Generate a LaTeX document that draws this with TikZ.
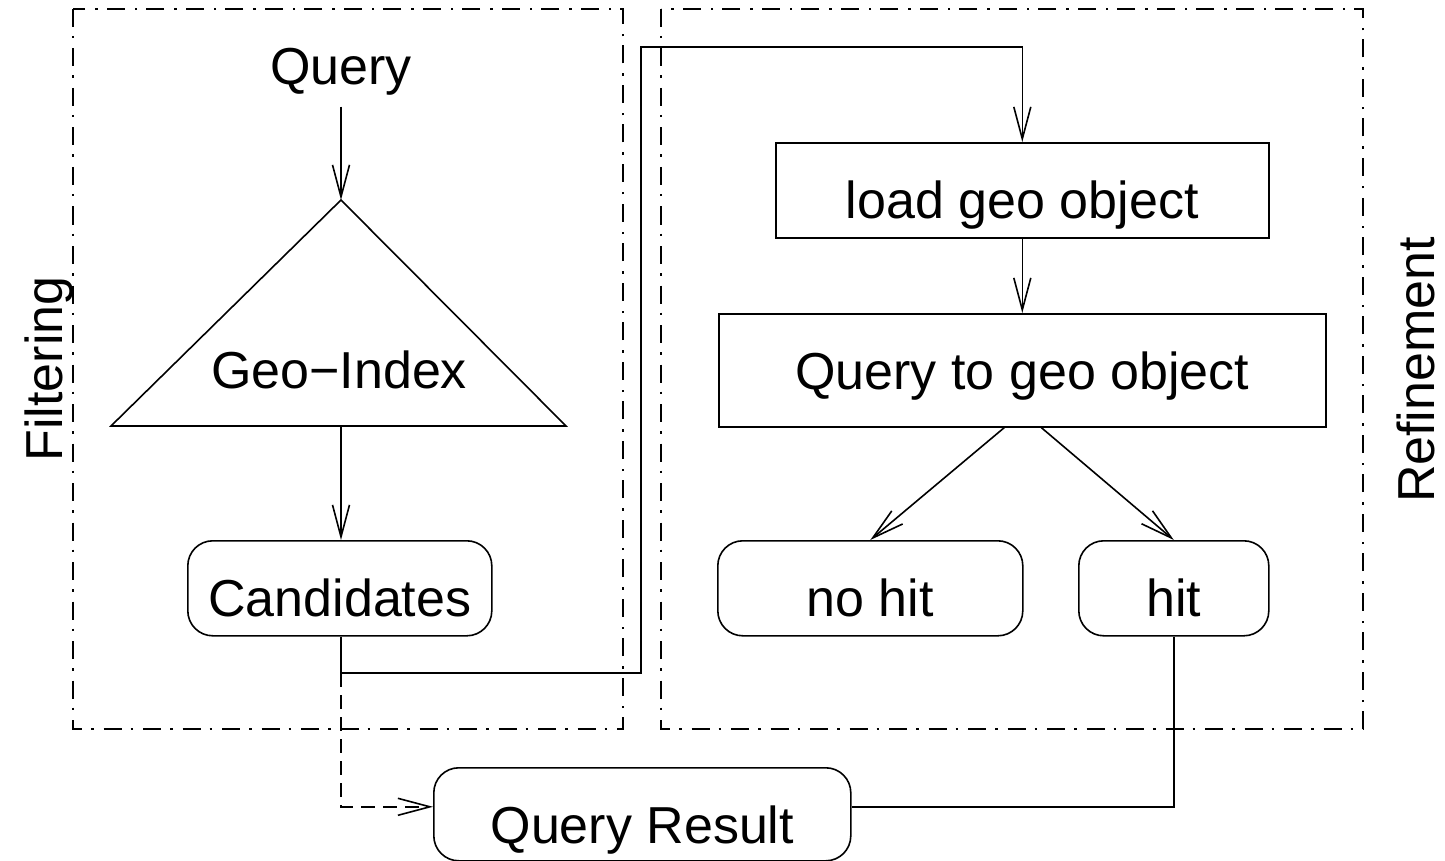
\documentclass[tikz,border=0pt]{standalone}
\usepackage{fontspec}
\setmainfont{Liberation Sans}
\usetikzlibrary{arrows.meta}

\tikzset{
  every picture/.style={x=1pt,y=-1pt,line width=1.6pt},
  arr/.style={-{Straight Barb[length=32pt,width=17pt,line width=1.6pt]}},
  frame/.style={dash pattern=on 18pt off 9pt on 2.5pt off 10pt},
  dashline/.style={dash pattern=on 14pt off 8pt},
  txt/.style={font=\fontsize{52}{60}\selectfont, inner sep=0pt},
  sqbox/.style={txt, draw, anchor=north west, text height=76pt},
  rbox/.style={sqbox, rounded corners=25pt},
}

\begin{document}
\begin{tikzpicture}
\useasboundingbox (0,0) rectangle (1445,861);

% group frames
\draw[frame] (73,9) rectangle (623,729);
\draw[frame] (661,9) rectangle (1363,729);
\node[txt, rotate=90, anchor=base] (filt) at (62,369) {Filtering};
\node[txt, rotate=90, anchor=base] (refi) at (1434,370) {Refinement};

% filtering step
\node[txt, anchor=base, inner ysep=10pt] (q) at (341,85) {Query};
\coordinate (apex) at (341,200);
\coordinate (tl) at (111,426);
\coordinate (tr) at (566,426);
\coordinate (tb) at (341,426);
\draw (apex) -- (tl) -- (tr) -- cycle;
\node[txt, anchor=base] (gi) at (339,388) {Geo−Index};
\node[rbox, minimum width=304pt, text depth=19pt] (cand) at (187,540) {Candidates};

\draw[arr] (q.south) -- (apex);
\draw[arr] (tb) -- (tb |- cand.north);

% refinement step
\node[sqbox, minimum width=493pt, text depth=19pt] (load) at (775,142) {load geo object};
\node[sqbox, minimum width=607pt, text depth=37pt] (qto) at (718,313) {Query to geo object};
\node[rbox, minimum width=305pt, text depth=19pt] (nohit) at (717,540) {no hit};
\node[rbox, minimum width=190pt, text depth=19pt] (hit) at (1078,540) {hit};

\draw[arr] (load.south) -- (qto.north);
\draw[arr] ([xshift=-18pt]qto.south) -- (nohit.north);
\draw[arr] ([xshift=19pt]qto.south) -- (hit.north);

% result
\node[rbox, minimum width=417pt, text depth=17pt] (qr) at (433,767) {Query Result};

% connectors between the stages
\coordinate (split) at (341,673);
\coordinate (up) at (641,47);
\draw[arr] (cand.south -| split) -- (split) -| (up) -| (load.north);
\draw[arr, dashline] (split) |- ([yshift=7.5pt]qr.west);
\draw (hit.south) |- ([yshift=7.5pt]qr.east);
\end{tikzpicture}
\end{document}
